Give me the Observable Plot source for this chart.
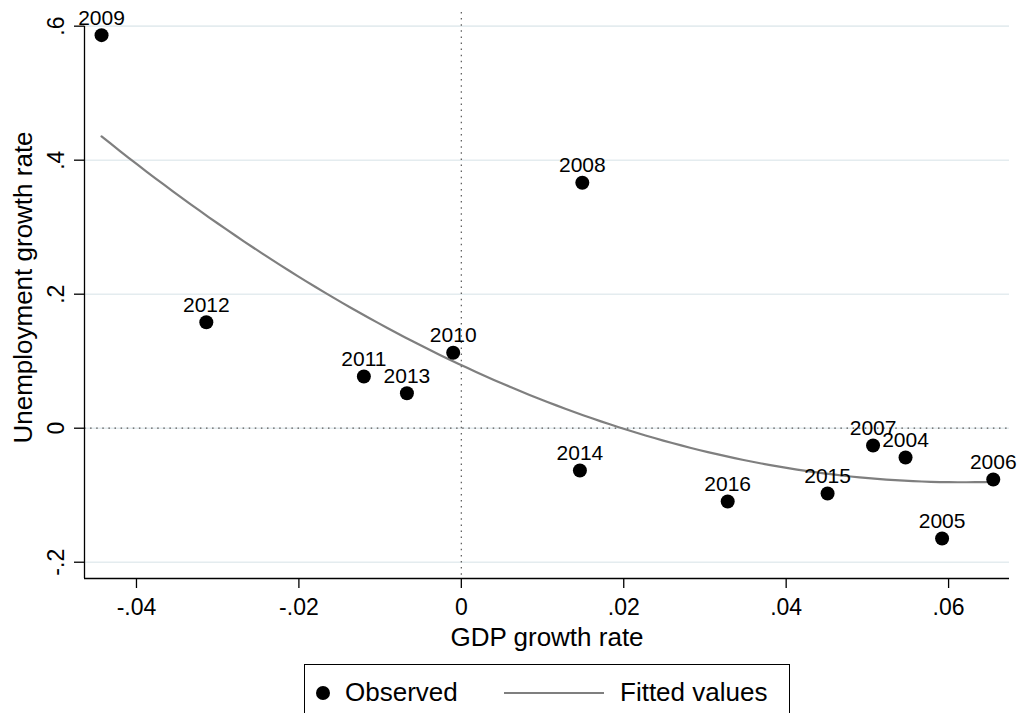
<!DOCTYPE html>
<html><head><meta charset="utf-8">
<script src="https://cdn.jsdelivr.net/npm/d3@7"></script>
<script src="https://cdn.jsdelivr.net/npm/@observablehq/plot@0.6"></script>
<style>
html,body{margin:0;padding:0;background:#fff;overflow:hidden;width:1018px;height:713px;}
#chart{position:absolute;left:0;top:0;}
.legend{position:absolute;left:304px;top:664px;width:486px;height:70px;border:1.3px solid #000;box-sizing:border-box;font-family:"Liberation Sans",Arial,Helvetica,sans-serif;font-size:26px;color:#000;}
.legend span{position:absolute;line-height:26px;white-space:nowrap;}
.legend .dot{position:absolute;width:14px;height:14px;border-radius:50%;background:#000;}
.legend .ln{position:absolute;height:2px;background:#7f7f7f;}
</style></head><body>
<div id="chart"></div>
<div class="legend">
  <div class="dot" style="left:10.5px;top:20.5px"></div>
  <span style="left:40px;top:14px">Observed</span>
  <div class="ln" style="left:199px;top:26.5px;width:100px"></div>
  <span style="left:315px;top:14px">Fitted values</span>
</div>
<script>
const years       = [2004, 2005, 2006, 2007, 2008, 2009, 2010, 2011, 2012, 2013, 2014, 2015, 2016];
const gdpGrowth   = [0.0547, 0.0592, 0.0655, 0.0507, 0.0149, -0.0443, -0.0010, -0.0120, -0.0314, -0.0067, 0.0146, 0.0451, 0.0328];
const unempGrowth = [-0.0437, -0.1646, -0.0766, -0.0258, 0.3663, 0.5866, 0.1125, 0.0772, 0.1582, 0.0522, -0.0631, -0.0975, -0.1094];

// Axis ticks
const xTicks = [-0.04, -0.02, 0, 0.02, 0.04, 0.06];
const yTicks = [-0.2, 0, 0.2, 0.4, 0.6];
const xDomain = [-0.0464, 0.0675];
const yDomain = [-0.2243, 0.6204];

const fmt = d => {
  if (d === 0) return "0";
  const s = String(+d.toFixed(4));
  return s.replace("0.", ".");
};

const obs = years.map((yr, i) => ({year: String(yr), x: gdpGrowth[i], y: unempGrowth[i]}));

// Quadratic least-squares fit (as Stata qfit) of the observed data
function qfit(xs, ys) {
  const n = xs.length;
  let S = [0,0,0,0,0], T = [0,0,0];
  for (let i = 0; i < n; i++) {
    const x = xs[i], y = ys[i];
    for (let k = 0; k < 5; k++) S[k] += Math.pow(x, k);
    for (let k = 0; k < 3; k++) T[k] += y * Math.pow(x, k);
  }
  const A = [[S[0],S[1],S[2],T[0]],[S[1],S[2],S[3],T[1]],[S[2],S[3],S[4],T[2]]];
  for (let c = 0; c < 3; c++) {
    let p = c; for (let r = c+1; r < 3; r++) if (Math.abs(A[r][c]) > Math.abs(A[p][c])) p = r;
    [A[c], A[p]] = [A[p], A[c]];
    for (let r = 0; r < 3; r++) if (r !== c) {
      const f = A[r][c] / A[c][c];
      for (let k = c; k < 4; k++) A[r][k] -= f * A[c][k];
    }
  }
  return [A[0][3]/A[0][0], A[1][3]/A[1][1], A[2][3]/A[2][2]];
}
const [b0, b1, b2] = qfit(gdpGrowth, unempGrowth);
const xMin = d3.min(gdpGrowth), xMax = d3.max(gdpGrowth);
const fit = d3.range(0, 101).map(i => {
  const x = xMin + (xMax - xMin) * i / 100;
  return {x, y: b0 + b1 * x + b2 * x * x};
});

const font = "Liberation Sans, Arial, Helvetica, sans-serif";

const chart = Plot.plot({
  width: 1018,
  height: 660,
  marginLeft: 84,
  marginRight: 9,
  marginTop: 12,
  marginBottom: 82,
  x: {domain: xDomain},
  y: {domain: yDomain},
  style: {fontFamily: font, background: "white", color: "black", overflow: "visible"},
  marks: [
    Plot.ruleY(yTicks, {stroke: "#e4ecef", strokeWidth: 1.6}),
    Plot.ruleX([0], {stroke: "#555", strokeWidth: 1.2, strokeDasharray: "1.5,4.6"}),
    Plot.ruleY([0], {stroke: "#555", strokeWidth: 1.2, strokeDasharray: "1.5,4.6"}),
    Plot.line(fit, {x: "x", y: "y", stroke: "#7f7f7f", strokeWidth: 2.2}),
    Plot.dot(obs, {x: "x", y: "y", r: 7, fill: "black", stroke: "none"}),
    Plot.text(obs, {x: "x", y: "y", text: "year", dy: -10.5, lineAnchor: "bottom", fontSize: 21, fill: "black"}),
    Plot.ruleY([yDomain[0]], {stroke: "black", strokeWidth: 1.3}),
    Plot.ruleX([{x: xDomain[0], y1: yDomain[0], y2: d3.max(yTicks)}], {x: "x", y1: "y1", y2: "y2", stroke: "black", strokeWidth: 1.3}),
    Plot.axisX({ticks: xTicks, tickSize: 10, tickPadding: 10.5, tickFormat: fmt, fontSize: 23, label: null, strokeWidth: 1.3}),
    Plot.axisY({ticks: yTicks, tickSize: 10, tickFormat: () => "", label: null, strokeWidth: 1.3}),
    Plot.text(yTicks, {y: d => d, text: fmt, frameAnchor: "left", dx: -21, rotate: -90, textAnchor: "middle", lineAnchor: "bottom", fontSize: 23, fill: "black"}),
    Plot.text(["GDP growth rate"], {text: d => d, frameAnchor: "bottom", dy: 58.7, textAnchor: "middle", lineAnchor: "middle", fontSize: 26, fill: "black"}),
    Plot.text(["Unemployment growth rate"], {text: d => d, frameAnchor: "left", dx: -61, dy: -8, rotate: -90, textAnchor: "middle", lineAnchor: "middle", fontSize: 26, fill: "black"})
  ]
});
document.getElementById("chart").appendChild(chart);
</script>
</body></html>
